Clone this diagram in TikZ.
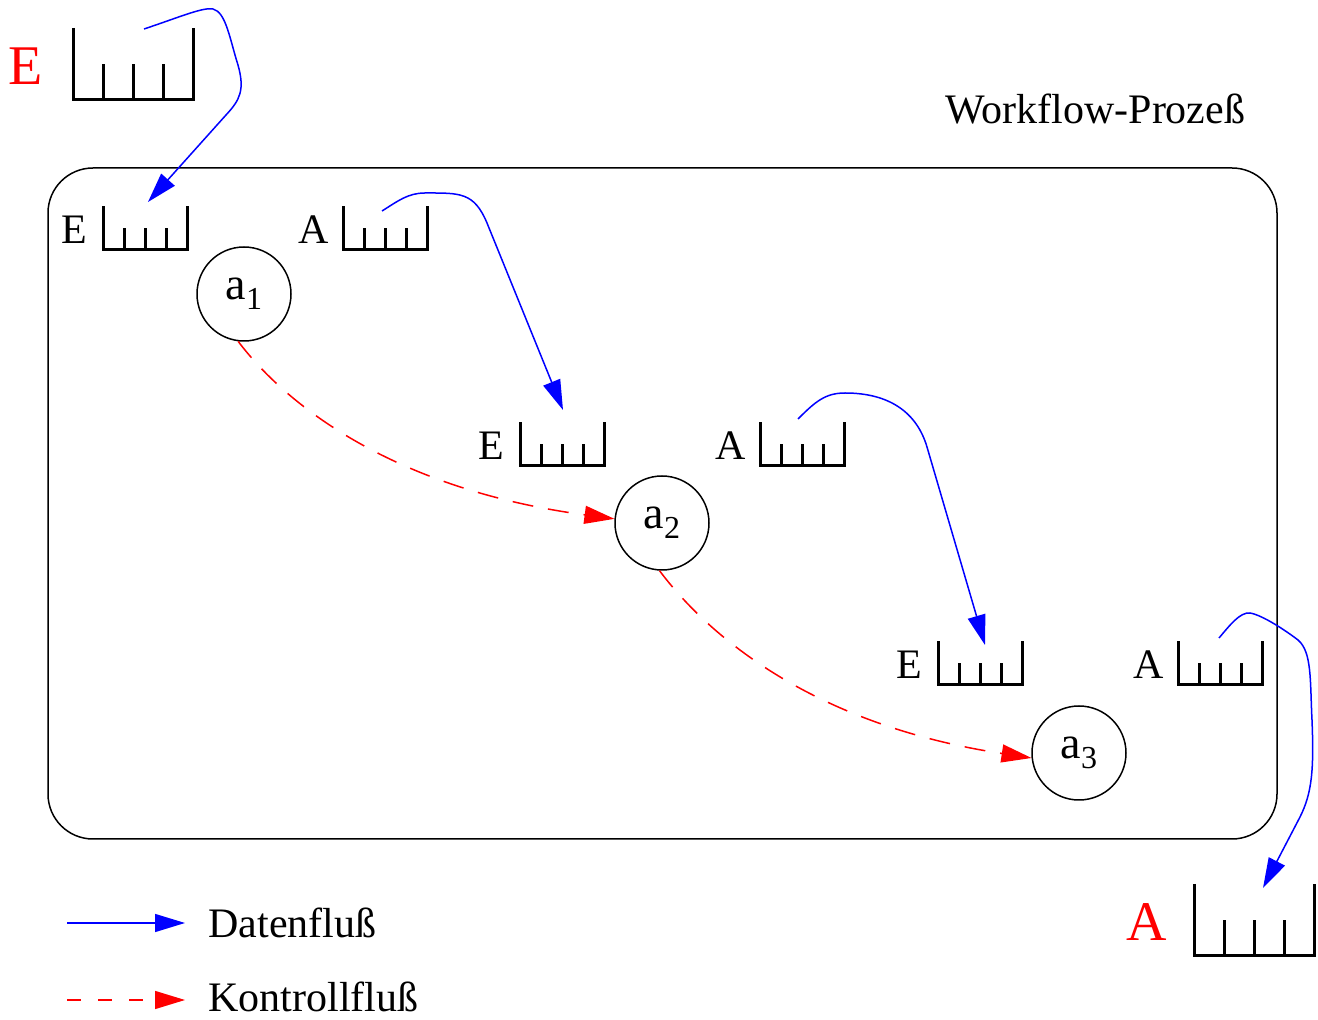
\documentclass[tikz,border=0pt]{standalone}
\usepackage{fontspec}
\setmainfont{Liberation Serif}
\usetikzlibrary{arrows.meta,calc}

\newcommand{\asub}[1]{a\raisebox{-5pt}{\fontsize{16}{16}\selectfont #1}}
\newcommand{\drawqueue}[1]{%
  \draw[qline] (#1.north west) -- (#1.south west) -- (#1.south east) -- (#1.north east);
  \foreach \f in {0.25,0.5,0.75}{\draw[qline] ($(#1.south west)!\f!(#1.south east)$) -- ($(#1.west)!\f!(#1.east)$);}
}

\tikzset{
  queue/.style={rectangle, draw=none, inner sep=0pt, outer sep=0pt, minimum width=42pt, minimum height=21.5pt},
  bigqueue/.style={queue, minimum width=60pt, minimum height=36pt},
  qline/.style={line width=1.5pt, line join=miter},
  lbl/.style={font=\fontsize{21}{21}\selectfont, inner sep=0pt, anchor=base east},
  biglbl/.style={font=\fontsize{28}{28}\selectfont, text=red, inner sep=0pt, anchor=base east},
  txt/.style={font=\fontsize{21}{21}\selectfont, inner sep=0pt, anchor=base west},
  act/.style={circle, draw, line width=0.75pt, minimum size=47pt, inner sep=0pt, font=\fontsize{23}{23}\selectfont},
  procbox/.style={draw, line width=0.75pt, rounded corners=22.5pt, minimum width=614.5pt, minimum height=335.5pt, inner sep=0pt},
  dflow/.style={draw=blue, line width=0.75pt, -{Triangle[length=15pt,width=9pt]}},
  cflow/.style={draw=red, line width=0.75pt, dash pattern=on 10.5pt off 7.5pt, -{Triangle[length=15pt,width=9pt]}},
}

\begin{document}
\begin{tikzpicture}[x=0.5pt,y=-0.5pt]
\useasboundingbox (0,0) rectangle (1318,1020);

% process container
\node[procbox] (proc) at (662.5,503.5) {};
\node[txt] (title) at (945,124) {Workflow-Prozeß};

% queues
\node[bigqueue] (q0) at (133,64) {};
\node[queue] (q1e) at (145,228) {};
\node[queue] (q1a) at (385,228) {};
\node[queue] (q2e) at (562,444) {};
\node[queue] (q2a) at (802,444) {};
\node[queue] (q3e) at (980,663) {};
\node[queue] (q3a) at (1220,663) {};
\node[bigqueue] (q4) at (1254,920) {};
\drawqueue{q0}
\drawqueue{q1e}
\drawqueue{q1a}
\drawqueue{q2e}
\drawqueue{q2a}
\drawqueue{q3e}
\drawqueue{q3a}
\drawqueue{q4}

% labels
\node[biglbl] (q0l) at ($(q0.south west)+(-30,-15)$) {E};
\node[lbl] (q1el) at ($(q1e.south west)+(-15,-6)$) {E};
\node[lbl] (q1al) at ($(q1a.south west)+(-14,-6)$) {A};
\node[lbl] (q2el) at ($(q2e.south west)+(-15,-6)$) {E};
\node[lbl] (q2al) at ($(q2a.south west)+(-14,-6)$) {A};
\node[lbl] (q3el) at ($(q3e.south west)+(-15,-6)$) {E};
\node[lbl] (q3al) at ($(q3a.south west)+(-14,-6)$) {A};
\node[biglbl] (q4l) at ($(q4.south west)+(-27,-15)$) {A};

% activities
\node[act] (a1) at (244,294) {\asub{1}};
\node[act] (a2) at (662,523) {\asub{2}};
\node[act] (a3) at (1079,753) {\asub{3}};

% data flow
\coordinate (d1s) at (144,29);  \coordinate (d1e) at (148,202);
\coordinate (d2s) at (382,211); \coordinate (d2e) at (563,410);
\coordinate (d3s) at (798,419); \coordinate (d3e) at (985,645);
\coordinate (d4s) at (1219,638);\coordinate (d4e) at (1263,888);
\draw[dflow] (d1s) .. controls (180,17) and (203,7) .. (213,9)
  .. controls (226,12) and (230,40) .. (238,65)
  .. controls (245,90) and (240,100) .. (226,115) -- (d1e);
\draw[dflow] (d2s) .. controls (398,201) and (408,193) .. (425,193)
  .. controls (460,193) and (474,192) .. (487,223) -- (d2e);
\draw[dflow] (d3s) .. controls (815,402) and (825,393) .. (845,393)
  .. controls (890,393) and (917,413) .. (927,447) -- (d3e);
\draw[dflow] (d4s) .. controls (1230,625) and (1240,612) .. (1250,613)
  .. controls (1262,615) and (1285,630) .. (1298,640)
  .. controls (1312,652) and (1310,680) .. (1312,720)
  .. controls (1314,770) and (1312,793) .. (1300,817) -- (d4e);

% control flow
\draw[cflow] (a1.263) .. controls (290,410) and (400,490) .. (a2.175);
\draw[cflow] (a2.267) .. controls (710,638) and (815,725) .. (a3.186);

% legend
\coordinate (l1s) at (67,923);  \coordinate (l1e) at (185,923);
\coordinate (l2s) at (67,1000); \coordinate (l2e) at (185,1000);
\draw[dflow] (l1s) -- (l1e);
\draw[cflow, dash pattern=on 7pt off 8.5pt] (l2s) -- (l2e);
\node[txt] (l1t) at (208,938) {Datenfluß};
\node[txt] (l2t) at (208,1012) {Kontrollfluß};
\end{tikzpicture}
\end{document}
